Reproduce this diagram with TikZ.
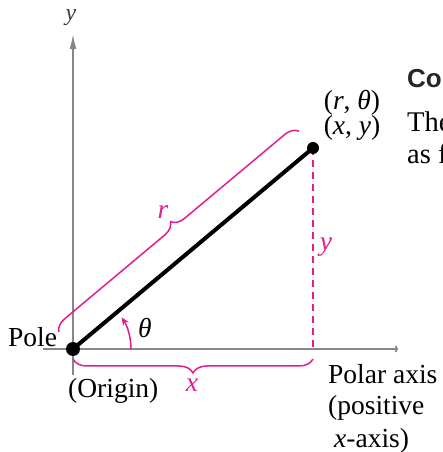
\documentclass[tikz,border=0pt]{standalone}
\usepackage{fontspec}
\setmainfont{Liberation Serif}
\setsansfont{Liberation Sans}
\usetikzlibrary{arrows.meta,decorations.pathreplacing,calc}
\definecolor{mag}{RGB}{226,30,140}
\definecolor{axisgray}{RGB}{135,135,135}
\tikzset{
  axisline/.style={draw=axisgray, line width=1.6pt},
  bracemark/.style={draw=mag, line width=1.5pt, decorate, decoration={brace, amplitude=#1}},
  lbl/.style={font=\fontsize{27.5}{31}\selectfont, inner sep=0pt},
  mlbl/.style={lbl, text=mag},
  dotmark/.style={fill=black, circle, inner sep=0pt, minimum size=#1}
}
\begin{document}
\begin{tikzpicture}[x=1pt,y=1pt]
\useasboundingbox (0,0) rectangle (442,452);
\clip (0,0) rectangle (442,452);
\coordinate (O) at (73,103);
\coordinate (P) at (313,304);
\coordinate (F) at (313,103);
\coordinate (ybot) at (73,77);
\coordinate (ytop) at (73,418);
\coordinate (xleft) at (43,103);
\coordinate (xright) at (398,103);
% axes
\draw[axisline, -{Latex[length=15pt,width=7pt]}] (ybot) -- (ytop);
\draw[axisline, -{Straight Barb[length=1.5pt,width=6pt]}] (xleft) -- (xright);
\node[lbl, text=black!75, font=\fontsize{24}{28}\selectfont] (ylab) at (71,434) {\textit{y}};
% braces
\draw[bracemark=13pt, decoration={raise=22pt}] (O) -- (P);
\draw[bracemark=14pt, decoration={raise=10pt}] (F) -- (O);
% dashed
\draw[mag, line width=1.6pt, dash pattern=on 7pt off 5pt] (P) -- (F);
% main segment
\draw[black, line width=4pt] (O) -- (P);
% angle
\draw[mag, line width=1.5pt, -{Stealth[length=8pt,width=7pt]}] ($(O)+(58,0)$) arc[start angle=0, end angle=33, radius=58];
% dots
\node[dotmark=14pt] (Odot) at (O) {};
\node[dotmark=12pt] (Pdot) at (P) {};
% labels
\node[lbl] (rt) at (352,349) {(\textit{r}, \textit{θ})};
\node[lbl] (xy) at (352,324) {(\textit{x}, \textit{y})};
\node[lbl, anchor=base west] (pole) at (8,105) {Pole};
\node[lbl, anchor=base west] (orig) at (68,54) {(Origin)};
\node[lbl] (th) at (145,124) {\textit{θ}};
\node[mlbl] (rl) at (163,240) {\textit{r}};
\node[mlbl] (xl) at (192,67) {\textit{x}};
\node[mlbl] (yl) at (326,205) {\textit{y}};
\node[lbl, anchor=base west] (pa1) at (328,68) {Polar axis};
\node[lbl, anchor=base west] (pa2) at (328,37) {(positive};
\node[lbl, anchor=base west] (pa3) at (334,5) {\textit{x}-axis)};
% cut-off neighbouring text
\node[anchor=base west, inner sep=0pt, font=\sffamily\bfseries\fontsize{26}{30}\selectfont, text=black!85] (co) at (407,364) {Co};
\node[lbl, anchor=base west, font=\fontsize{28.5}{32}\selectfont] (the) at (407,320) {The};
\node[lbl, anchor=base west, font=\fontsize{28.5}{32}\selectfont] (asf) at (407,288) {as f};
\end{tikzpicture}
\end{document}
